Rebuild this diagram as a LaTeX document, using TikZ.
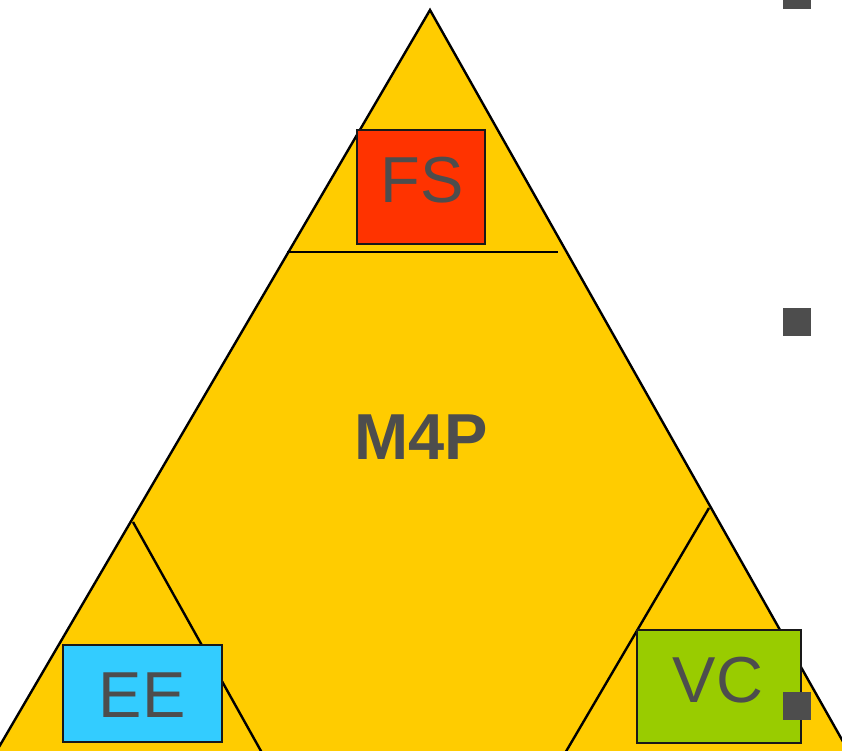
\documentclass[tikz,border=0pt]{standalone}
\usepackage{fontspec}
\setmainfont{Liberation Sans}
\definecolor{pyramid}{HTML}{FFCC00}
\definecolor{fsred}{HTML}{FF3300}
\definecolor{eeblue}{HTML}{33CCFF}
\definecolor{vcgreen}{HTML}{99CC00}
\definecolor{ink}{HTML}{4D4D4D}
\tikzset{
  edge/.style={line width=2.4pt, draw=black, line join=miter},
  box/.style={draw=black!90, line width=1.8pt, inner sep=0pt, rectangle},
  tag/.style={text=ink, font=\fontsize{65}{65}\selectfont, inner sep=0pt},
  bullet/.style={fill=ink, draw=none, inner sep=0pt, minimum size=28pt, rectangle},
}
\begin{document}
\begin{tikzpicture}[x=1pt, y=-1pt]
\useasboundingbox (0,0) rectangle (842,750);
\clip (0,0) rectangle (842,750);
\fill[white] (0,0) rectangle (842,750);

% outer pyramid (its base lies below the page edge)
\coordinate (apex) at (430,10);
\coordinate (bl) at (-32,800);
\coordinate (br) at (876,800);
\filldraw[edge, fill=pyramid] (apex) -- (bl) -- (br) -- cycle;

% dividing lines of the corner sections
\coordinate (t1) at (287,252);
\coordinate (t2) at (558,252);
\draw[edge] (t1) -- (t2);
\coordinate (l1) at (133,522);
\coordinate (l2) at (266,760);
\draw[edge] (l1) -- (l2);
\coordinate (r1) at (709,508);
\coordinate (r2) at (561,760);
\draw[edge] (r1) -- (r2);

% labelled boxes
\node[box, fill=fsred, minimum width=128pt, minimum height=114pt] (fsbox) at (421,187) {};
\node[tag] (fs) at (422,180) {FS};
\node[box, fill=eeblue, minimum width=159pt, minimum height=97pt] (eebox) at (142.5,693.5) {};
\node[tag] (ee) at (142,695) {EE};
\node[box, fill=vcgreen, minimum width=164pt, minimum height=113pt] (vcbox) at (719,686.5) {};
\node[tag] (vc) at (718,680) {VC};

% centre title
\node[tag, font=\fontsize{65}{65}\selectfont\bfseries] (m4p) at (421,437) {M4P};

% list bullets at the right
\node[bullet] (b1) at (797,-5) {};
\node[bullet] (b2) at (797,321.5) {};
\node[bullet] (b3) at (797,705.5) {};
\end{tikzpicture}
\end{document}
